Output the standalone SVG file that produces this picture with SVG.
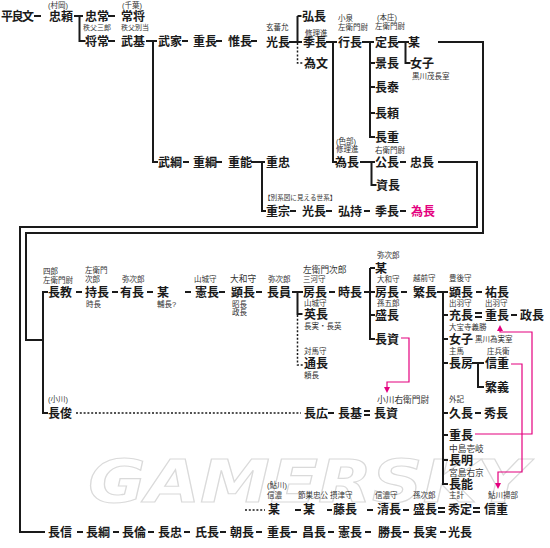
<svg xmlns="http://www.w3.org/2000/svg" width="550" height="548" viewBox="0 0 550 548">
<style>
.n{font-family:"Liberation Sans","Noto Sans CJK JP","Noto Sans CJK SC",sans-serif;font-size:12px;font-weight:700;fill:#1a1a1a}
.s{font-family:"Liberation Sans","Noto Sans CJK JP","Noto Sans CJK SC",sans-serif;font-size:7.5px;fill:#333}
.b{font-size:8.7px}
.pt{fill:#e4007f}
.c{stroke:#1a1a1a;stroke-width:2;fill:none}
.dt{stroke:#1a1a1a;stroke-width:1.5;fill:none;stroke-dasharray:2 1.8}
.p{stroke:#e4007f;stroke-width:1.2;fill:none}
.wm{font-family:"DejaVu Sans",sans-serif;font-style:italic;font-weight:700;font-size:58px;fill:none;stroke:#dadada;stroke-width:1.1}
</style>
<defs>
<marker id="ah" viewBox="0 0 6 6" refX="3" refY="3" markerWidth="5" markerHeight="5" orient="auto"><path d="M0,0L6,3L0,6Z" fill="#e4007f"/></marker>
</defs>
<rect width="550" height="548" fill="#fff"/>
<text class="wm" x="88" y="502" textLength="440" lengthAdjust="spacingAndGlyphs">GAMERSKY</text>

<g id="connectors">
<path class="c" d="M34 16h7M74 16h9M79.5 16V41h6M108 16h7M108 41h7M146 41h11M153 41V162h5M182 41h6M216 41h6M251 41h6M289 42h13M297.5 16V42M297.5 16h4M326 42h11M333 42V162h4M362 42h12M370 42V137h5M370 63h5M370 87h5M370 113h5M398 42h11M405.5 42V63h5"/>
<path class="dt" d="M297.5 43V63h5"/>
<path class="c" d="M438 42H483V233H26V340H43M48 292H43V413h5"/>
<path class="c" d="M183 162h6M216 162h6M251 162h14M262 162V211h4M360 162h15M371.5 162V185h5M400 162h6M438 162H477V227H20V532H45M290 211h6M326 211h6M364 211h6M400 211h6"/>
<path class="c" d="M76 292h6M112 292h6M147 292h6M185 292h6M219 292h6M256 292h6M292 292h11M297.5 292V314h5M329 292h6M364 292h11M370 268V339h5M370 268h5M370 315h5M401 292h6M437 292h11M443 292V484h5M443 315h5M443 339h5M443 363h5M443 413h5M443 435h5M443 460h5M476 292h6M475 313h7M475 317h7M511 315h6M472 363h12M478 363V387h6M475 413h6"/>
<path class="dt" d="M297.5 315V365h6M76 413H301M245 510H265"/>
<path class="c" d="M328 413h6M364 411h6M364 415h6M295 510h6M327 510h5M367 510h6M403 510h6M438 508h7M438 512h7M473 508h7M473 512h7"/>
<path class="c" d="M77 532h6M113 532h6M148 532h6M184 532h6M220 532h6M256 532h6M291 532h6M328 532h6M365 532h6M403 532h6M440 532h6"/>
<path class="p" d="M401 338H409V382H387V390" marker-end="url(#ah)"/>
<path class="p" d="M511 364H522V472H498V486" marker-end="url(#ah)"/>
<path class="p" d="M475 434H532V332H500V328" marker-end="url(#ah)"/>
</g>

<g id="n_heiryoubun"><text class="n" x="1" y="20.5" textLength="33">平良文</text></g>
<g id="n_tadayori"><text class="s" x="48" y="8">(村岡)</text><text class="n" x="49" y="20.5">忠頼</text></g>
<g id="n_tadatsune"><text class="n" x="85" y="20.5">忠常</text></g>
<g id="n_tsunemasa"><text class="s" x="122" y="8">(千葉)</text><text class="n" x="121" y="20.5">常将</text></g>
<g id="n_masatsune"><text class="s" x="83" y="30" style="font-size:7px">秩父三郎</text><text class="n" x="85" y="46">将常</text></g>
<g id="n_takemoto"><text class="s" x="121" y="30" style="font-size:7px">秩父別当</text><text class="n" x="121" y="46">武基</text></g>
<g id="n_takeie"><text class="n" x="158" y="46">武家</text></g>
<g id="n_shigenaga1"><text class="n" x="193" y="46">重長</text></g>
<g id="n_korenaga"><text class="n" x="228" y="46">惟長</text></g>
<g id="n_mitsunaga1"><text class="s" x="266" y="30">玄蕃允</text><text class="n" x="266" y="46.5">光長</text></g>
<g id="n_hironaga"><text class="n" x="302" y="20.5">弘長</text></g>
<g id="n_suenaga1"><text class="s" x="305" y="35.5">修理進</text><text class="n" x="303" y="47">季長</text></g>
<g id="n_tamefumi"><text class="n" x="304" y="68">為文</text></g>
<g id="n_yukinaga"><text class="s" x="338" y="21">小泉</text><text class="s" x="338" y="29.5">左衛門尉</text><text class="n" x="338" y="47">行長</text></g>
<g id="n_sadanaga"><text class="s" x="377" y="20">(本庄)</text><text class="s" x="375" y="29">左衛門尉</text><text class="n" x="375" y="47">定長</text></g>
<g id="n_kagenaga"><text class="n" x="375" y="68">景長</text></g>
<g id="n_nagayasu"><text class="n" x="375" y="92">長泰</text></g>
<g id="n_nagayori"><text class="n" x="375" y="118">長頼</text></g>
<g id="n_nagashige"><text class="n" x="375" y="142">長重</text></g>
<g id="n_bou1"><text class="n" x="408" y="47">某</text></g>
<g id="n_joshi1"><text class="n" x="410" y="68">女子</text><text class="s" x="412" y="79">黒川茂長室</text></g>

<g id="n_taketsuna"><text class="n" x="158" y="167">武綱</text></g>
<g id="n_shigetsuna"><text class="n" x="193" y="167">重綱</text></g>
<g id="n_shigeyoshi"><text class="n" x="228" y="167">重能</text></g>
<g id="n_shigetada"><text class="n" x="266" y="167">重忠</text></g>
<g id="n_tamenaga1"><text class="s" x="336" y="143.5">(色部)</text><text class="s" x="336" y="152">修理進</text><text class="n" x="335" y="167">為長</text></g>
<g id="n_kiminaga"><text class="s" x="375" y="153">右衛門尉</text><text class="n" x="375" y="167">公長</text></g>
<g id="n_tadanaga"><text class="n" x="410" y="167">忠長</text></g>
<g id="n_sukenaga"><text class="n" x="376" y="190">資長</text></g>
<g id="n_betsu"><text class="s" x="264" y="200" style="font-size:6.6px">【別系図に見える世系】</text></g>
<g id="n_shigemune"><text class="n" x="266" y="216">重宗</text></g>
<g id="n_mitsunaga2"><text class="n" x="302" y="216">光長</text></g>
<g id="n_hiromochi"><text class="n" x="338" y="216">弘持</text></g>
<g id="n_suenaga2"><text class="n" x="375" y="216">季長</text></g>
<g id="n_tamenaga2"><text class="n pt" x="411" y="216">為長</text></g>

<g id="n_naganori"><text class="s" x="43" y="274">四郎</text><text class="s" x="43" y="282.5">左衛門尉</text><text class="n" x="48" y="297">長教</text></g>
<g id="n_mochinaga"><text class="s" x="85" y="273">左衛門</text><text class="s" x="85" y="282">次郎</text><text class="n" x="85" y="297">持長</text><text class="s" x="86" y="306.5">時長</text></g>
<g id="n_arinaga"><text class="s" x="122" y="282">弥次郎</text><text class="n" x="120" y="297">有長</text></g>
<g id="n_bou2"><text class="n" x="157" y="297">某</text><text class="s" x="157" y="306.5">輔長?</text></g>
<g id="n_norinaga1"><text class="s" x="194" y="282">山城守</text><text class="n" x="195" y="297">憲長</text></g>
<g id="n_akinaga1"><text class="s b" x="230" y="282">大和守</text><text class="n" x="231" y="297">顕長</text><text class="s" x="232" y="306.5">昭長</text><text class="s" x="232" y="315">政長</text></g>
<g id="n_nagakazu"><text class="s" x="268" y="282">弥次郎</text><text class="n" x="267" y="297">長員</text></g>
<g id="n_fusanaga1"><text class="s b" x="303" y="272.5">左衛門次郎</text><text class="s" x="303" y="281.5">三河守</text><text class="n" x="303" y="297">房長</text></g>
<g id="n_tokinaga"><text class="n" x="338" y="297">時長</text></g>
<g id="n_hidenaga"><text class="s" x="304" y="305.5">山城守</text><text class="n" x="304" y="319">英長</text><text class="s" x="304" y="328.5">長実・長英</text></g>
<g id="n_michinaga"><text class="s" x="304" y="353.5">対馬守</text><text class="n" x="304" y="368">通長</text><text class="s" x="304" y="378">頼長</text></g>
<g id="n_bou3"><text class="s" x="377" y="258">弥次郎</text><text class="n" x="375" y="272.5">某</text></g>
<g id="n_fusanaga2"><text class="s" x="377" y="282">大和守</text><text class="n" x="375" y="297">房長</text></g>
<g id="n_morinaga1"><text class="s" x="377" y="306">孫五郎</text><text class="n" x="375" y="320">盛長</text></g>
<g id="n_nagasuke1"><text class="n" x="375" y="344">長資</text></g>
<g id="n_shigenaga2"><text class="s" x="413" y="281">越前守</text><text class="n" x="413" y="297">繁長</text></g>
<g id="n_akinaga2"><text class="s" x="449" y="281">豊後守</text><text class="n" x="449" y="297">顕長</text></g>
<g id="n_sukenaga2"><text class="n" x="485" y="297">祐長</text></g>
<g id="n_mitsunaga3"><text class="s" x="449" y="306">出羽守</text><text class="n" x="449" y="320">充長</text><text class="s" x="449" y="329.5">大宝寺義勝</text></g>
<g id="n_shigenaga3"><text class="s" x="485" y="306">出羽守</text><text class="n" x="485" y="320">重長</text></g>
<g id="n_masanaga"><text class="n" x="520" y="320">政長</text></g>
<g id="n_joshi2"><text class="n" x="449" y="344">女子</text><text class="s" x="475" y="342">黒川為実室</text></g>
<g id="n_nagafusa"><text class="s" x="449" y="353.5">主馬</text><text class="n" x="449" y="368">長房</text></g>
<g id="n_nobushige1"><text class="s" x="487" y="353.5">庄兵衛</text><text class="n" x="485" y="368">信重</text></g>
<g id="n_shigeyoshi2"><text class="n" x="485" y="392">繁義</text></g>
<g id="n_hisanaga"><text class="s" x="449" y="402">外記</text><text class="n" x="449" y="418">久長</text></g>
<g id="n_hidenaga2"><text class="n" x="484" y="418">秀長</text></g>
<g id="n_shigenaga4"><text class="n" x="449" y="440">重長</text></g>
<g id="n_nagaaki"><text class="s b" x="449" y="452">中島壱岐</text><text class="n" x="449" y="465">長明</text></g>
<g id="n_nagayoshi"><text class="s b" x="449" y="475.5">宮島右京</text><text class="n" x="449" y="489">長能</text></g>

<g id="n_nagatoshi"><text class="s" x="48" y="402">(小川)</text><text class="n" x="48" y="418">長俊</text></g>
<g id="n_nagahiro"><text class="n" x="304" y="418">長広</text></g>
<g id="n_nagamoto"><text class="n" x="338" y="418">長基</text></g>
<g id="n_nagasuke2"><text class="s b" x="377" y="403">小川右衛門尉</text><text class="n" x="374" y="418">長資</text></g>

<g id="n_bou4"><text class="s" x="267" y="487.5">(鮎川)</text><text class="s" x="267" y="497.5">信濃</text><text class="n" x="268" y="514">某</text></g>
<g id="n_bou5"><text class="s" x="298" y="497.5">節巣忠公</text><text class="n" x="303" y="514">某</text></g>
<g id="n_fujinaga"><text class="s" x="330" y="497.5">摂津守</text><text class="n" x="333" y="514">藤長</text></g>
<g id="n_kiyonaga"><text class="s" x="375" y="497.5">信濃守</text><text class="n" x="377" y="514">清長</text></g>
<g id="n_morinaga2"><text class="s" x="413" y="497.5">孫次郎</text><text class="n" x="413" y="514">盛長</text></g>
<g id="n_hidesada"><text class="s" x="449" y="497.5">主計</text><text class="n" x="448" y="514">秀定</text></g>
<g id="n_nobushige2"><text class="s" x="488" y="497.5">鮎川掃部</text><text class="n" x="484" y="514">信重</text></g>

<g id="n_naganobu"><text class="n" x="48" y="537">長信</text></g>
<g id="n_nagatsuna"><text class="n" x="86" y="537">長綱</text></g>
<g id="n_nagatomo"><text class="n" x="122" y="537">長倫</text></g>
<g id="n_nagatada"><text class="n" x="158" y="537">長忠</text></g>
<g id="n_ujinaga"><text class="n" x="195" y="537">氏長</text></g>
<g id="n_tomonaga"><text class="n" x="230" y="537">朝長</text></g>
<g id="n_shigenaga5"><text class="n" x="267" y="537">重長</text></g>
<g id="n_masanaga2"><text class="n" x="302" y="537">昌長</text></g>
<g id="n_norinaga2"><text class="n" x="338" y="537">憲長</text></g>
<g id="n_katsunaga"><text class="n" x="378" y="537">勝長</text></g>
<g id="n_nagazane"><text class="n" x="413" y="537">長実</text></g>
<g id="n_mitsunaga4"><text class="n" x="448" y="537">光長</text></g>
</svg>
